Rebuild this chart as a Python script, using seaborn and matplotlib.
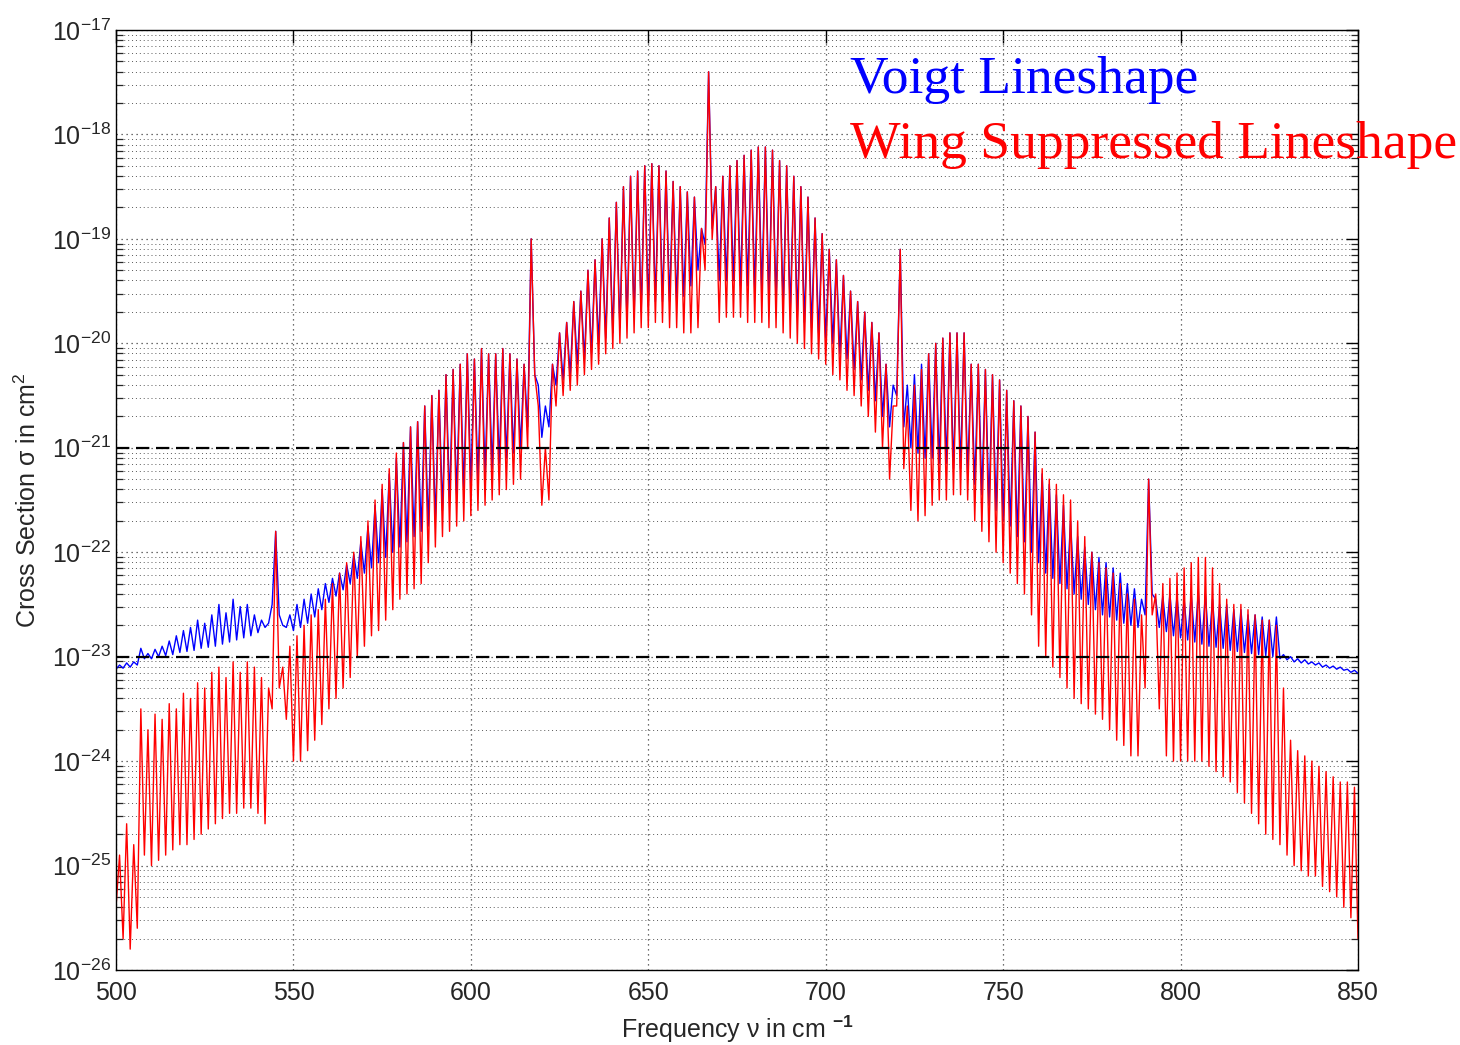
import numpy as np
import pandas as pd
import matplotlib
matplotlib.use("Agg")
import matplotlib.pyplot as plt
import seaborn as sns
from matplotlib.ticker import LogLocator, FixedLocator, NullFormatter, FuncFormatter

# ---------------- data (log10 of cross section, cm^2) ----------------
# Grid: troughs at even wavenumbers 500..850, line peaks at odd wavenumbers 501..849
nu_trough = np.arange(500, 851, 2)
nu_peak = np.arange(501, 850, 2)

red_peak = [
    -24.9, -24.6, -24.8, -23.5, -23.7, -23.55, -23.6, -23.45, -23.5, -23.35,
    -23.4, -23.25, -23.3, -23.15, -23.1, -23.2, -23.05, -23.15, -23.05, -23.1,
    -23.2, -23.3, -21.8, -23.1, -22.9, -22.8, -22.7, -22.6, -22.55, -22.45,
    -22.3, -22.2, -22.1, -22.0, -21.85, -21.7, -21.5, -21.35, -21.2, -21.05,
    -20.95, -20.8, -20.75, -20.6, -20.5, -20.45, -20.3, -20.25, -20.2, -20.1,
    -20.15, -20.05, -20.1, -20.1, -20.05, -20.1, -20.15, -20.2, -19.0, -20.6,
    -21.0, -20.2, -19.9, -19.8, -19.6, -19.5, -19.3, -19.2, -19.0, -18.8,
    -18.65, -18.5, -18.4, -18.35, -18.3, -18.28, -18.3, -18.35, -18.45, -18.5,
    -18.55, -18.6, -18.9, -17.4, -18.5, -18.4, -18.3, -18.25, -18.2, -18.15,
    -18.12, -18.12, -18.15, -18.25, -18.3, -18.4, -18.5, -18.6, -18.8, -18.95,
    -19.1, -19.2, -19.35, -19.5, -19.6, -19.7, -19.8, -19.9, -20.2, -20.6,
    -19.1, -20.6, -20.4, -20.25, -20.1, -20.0, -19.95, -19.9, -19.9, -19.9,
    -20.2, -20.2, -20.25, -20.3, -20.35, -20.45, -20.55, -20.6, -20.7, -20.85,
    -21.2, -21.3, -21.35, -21.45, -21.5, -21.7, -21.85, -22.0, -22.1, -22.15,
    -22.2, -22.3, -22.4, -22.45, -22.6, -21.3, -22.4, -22.3, -22.25, -22.2,
    -22.15, -22.1, -22.05, -22.05, -22.15, -22.3, -22.45, -22.5, -22.5, -22.55,
    -22.6, -22.65, -22.65, -22.7, -23.3, -23.8, -23.9, -23.95, -24.0, -24.05,
    -24.1, -24.15, -24.2, -24.2, -24.25,
]

red_trough = [
    -25.4, -25.7, -25.8, -25.6, -24.9, -25.0, -24.95, -24.9, -24.85, -24.8,
    -24.8, -24.75, -24.7, -24.65, -24.6, -24.55, -24.5, -24.5, -24.45, -24.45,
    -24.5, -24.6, -23.5, -23.3, -23.6, -24.0, -24.0, -23.9, -23.8, -23.65,
    -23.5, -23.4, -23.3, -23.2, -23.0, -22.9, -22.8, -22.75, -22.65, -22.55,
    -22.45, -22.4, -22.35, -22.3, -22.1, -21.95, -21.85, -21.8, -21.75, -21.7,
    -21.65, -21.6, -21.55, -21.5, -21.45, -21.4, -21.35, -21.3, -21.0, -20.3,
    -21.55, -21.5, -20.6, -20.5, -20.45, -20.4, -20.3, -20.25, -20.2, -20.1,
    -20.05, -20.0, -19.95, -19.9, -19.85, -19.85, -19.8, -19.8, -19.85, -19.85,
    -19.9, -19.9, -19.85, -19.3, -19.0, -19.8, -19.75, -19.75, -19.75, -19.8,
    -19.8, -19.8, -19.85, -19.85, -19.9, -19.95, -20.0, -20.05, -20.1, -20.15,
    -20.2, -20.3, -20.35, -20.45, -20.5, -20.6, -20.7, -20.85, -21.0, -21.3,
    -20.6, -21.2, -21.6, -21.7, -21.65, -21.55, -21.5, -21.5, -21.45, -21.45,
    -21.5, -21.7, -21.8, -21.9, -22.0, -22.1, -22.2, -22.3, -22.4, -22.6,
    -22.9, -23.0, -23.1, -23.2, -23.3, -23.4, -23.45, -23.5, -23.55, -23.6,
    -23.7, -23.8, -23.85, -23.95, -23.95, -23.3, -22.6, -23.5, -23.95, -24.0,
    -24.0, -24.0, -24.0, -24.0, -24.05, -24.1, -24.15, -24.2, -24.3, -24.4,
    -24.5, -24.6, -24.7, -24.75, -24.8, -24.9, -25.0, -25.05, -25.1, -25.1,
    -25.2, -25.25, -25.3, -25.4, -25.5, -25.7,
]

blue_peak = [
    -23.08, -23.06, -23.05, -22.92, -22.97, -22.93, -22.9, -22.85, -22.8, -22.75,
    -22.72, -22.65, -22.68, -22.6, -22.5, -22.58, -22.45, -22.52, -22.5, -22.6,
    -22.65, -22.68, -21.8, -22.7, -22.6, -22.5, -22.45, -22.4, -22.35, -22.3,
    -22.25, -22.2, -22.12, -22.02, -21.9, -21.75, -21.55, -21.4, -21.25, -21.1,
    -20.95, -20.8, -20.75, -20.6, -20.5, -20.45, -20.3, -20.25, -20.2, -20.1,
    -20.15, -20.05, -20.1, -20.1, -20.05, -20.1, -20.15, -20.2, -19.0, -20.4,
    -20.6, -20.2, -19.9, -19.8, -19.6, -19.5, -19.3, -19.2, -19.0, -18.8,
    -18.65, -18.5, -18.4, -18.35, -18.3, -18.28, -18.3, -18.35, -18.45, -18.5,
    -18.55, -18.6, -18.9, -17.4, -18.5, -18.4, -18.3, -18.25, -18.2, -18.15,
    -18.12, -18.12, -18.15, -18.25, -18.3, -18.4, -18.5, -18.6, -18.8, -18.95,
    -19.1, -19.2, -19.35, -19.5, -19.6, -19.7, -19.8, -19.9, -20.2, -20.4,
    -19.1, -20.4, -20.3, -20.2, -20.1, -20.0, -19.95, -19.9, -19.9, -19.9,
    -20.2, -20.2, -20.25, -20.3, -20.35, -20.45, -20.55, -20.6, -20.7, -20.85,
    -21.25, -21.35, -21.45, -21.55, -21.7, -21.85, -21.95, -22.0, -22.05, -22.1,
    -22.15, -22.2, -22.3, -22.35, -22.45, -21.3, -22.45, -22.42, -22.4, -22.42,
    -22.45, -22.4, -22.38, -22.4, -22.45, -22.5, -22.5, -22.55, -22.55, -22.6,
    -22.6, -22.62, -22.65, -22.62, -22.98, -23.0, -23.02, -23.03, -23.05, -23.06,
    -23.08, -23.09, -23.1, -23.12, -23.13,
]

blue_trough = [
    -23.12, -23.11, -23.1, -23.08, -23.02, -23.02, -23.0, -22.99, -22.98, -22.96,
    -22.95, -22.94, -22.92, -22.91, -22.9, -22.88, -22.86, -22.84, -22.82, -22.8,
    -22.77, -22.72, -22.5, -22.6, -22.72, -22.75, -22.72, -22.68, -22.62, -22.55,
    -22.48, -22.42, -22.36, -22.3, -22.25, -22.2, -22.15, -22.1, -22.05, -22.0,
    -21.95, -21.9, -21.85, -21.8, -21.75, -21.7, -21.6, -21.5, -21.45, -21.4,
    -21.35, -21.3, -21.25, -21.2, -21.15, -21.1, -21.05, -21.0, -20.8, -20.3,
    -20.9, -20.8, -20.4, -20.35, -20.3, -20.2, -20.15, -20.1, -20.0, -19.95,
    -19.9, -19.85, -19.8, -19.75, -19.7, -19.65, -19.6, -19.6, -19.6, -19.6,
    -19.55, -19.45, -19.3, -19.05, -18.9, -19.4, -19.4, -19.4, -19.45, -19.45,
    -19.5, -19.5, -19.55, -19.6, -19.65, -19.7, -19.75, -19.8, -19.85, -19.9,
    -19.95, -20.0, -20.1, -20.15, -20.25, -20.35, -20.45, -20.55, -20.7, -20.8,
    -20.5, -20.8, -21.0, -21.05, -21.1, -21.1, -21.15, -21.15, -21.2, -21.2,
    -21.25, -21.35, -21.45, -21.55, -21.6, -21.7, -21.75, -21.85, -21.9, -22.0,
    -22.1, -22.2, -22.25, -22.3, -22.35, -22.4, -22.45, -22.5, -22.55, -22.6,
    -22.62, -22.65, -22.68, -22.7, -22.72, -22.6, -22.4, -22.72, -22.76, -22.8,
    -22.82, -22.84, -22.86, -22.88, -22.9, -22.91, -22.92, -22.94, -22.95, -22.96,
    -22.97, -22.98, -22.99, -23.0, -23.02, -23.03, -23.05, -23.06, -23.07, -23.08,
    -23.1, -23.11, -23.12, -23.13, -23.15, -23.16,
]

threshold_levels = [1e-21, 1e-23]
x_ticks = [500, 550, 600, 650, 700, 750, 800, 850]
y_decades = list(range(-26, -16))
series_names = ["Voigt Lineshape", "Wing Suppressed Lineshape"]
series_colors = ["#0000ff", "#ff0000"]


def build(name, troughs, peaks):
    nu = np.concatenate([nu_trough, nu_peak])
    lg = np.concatenate([np.asarray(troughs), np.asarray(peaks)])
    df = pd.DataFrame({"nu": nu, "sigma": 10.0 ** lg, "series": name})
    return df.sort_values("nu").reset_index(drop=True)


df_blue = build(series_names[0], blue_trough, blue_peak)
df_red = build(series_names[1], red_trough, red_peak)

# ---------------- style ----------------
sns.set_style("white")
plt.rcParams["font.family"] = ["Liberation Sans", "DejaVu Sans"]
plt.rcParams["mathtext.fontset"] = "custom"
plt.rcParams["mathtext.rm"] = "Liberation Sans"
plt.rcParams["mathtext.it"] = "Liberation Sans:italic"
plt.rcParams["mathtext.bf"] = "Liberation Sans:bold"

fig = plt.figure(figsize=(14.6, 10.45), dpi=100)
ax = fig.add_axes([116 / 1460, 1 - 970 / 1045, (1358 - 116) / 1460, (970 - 30) / 1045])

sns.lineplot(data=df_blue, x="nu", y="sigma", ax=ax, color=series_colors[0],
             lw=1.0, estimator=None, sort=False, legend=False)
sns.lineplot(data=df_red, x="nu", y="sigma", ax=ax, color=series_colors[1],
             lw=1.0, estimator=None, sort=False, legend=False)

for lvl in threshold_levels:
    ax.axhline(lvl, color="black", lw=1.6, ls=(0, (6, 3)), zorder=5)

ax.set_yscale("log")
ax.set_xlim(500, 850)
ax.set_ylim(1e-26, 1e-17)

ax.xaxis.set_major_locator(FixedLocator(x_ticks))
ax.yaxis.set_major_locator(FixedLocator([10.0 ** d for d in y_decades]))
ax.yaxis.set_minor_locator(LogLocator(base=10, subs=np.arange(2, 10), numticks=100))
ax.yaxis.set_minor_formatter(NullFormatter())
ax.yaxis.set_major_formatter(FuncFormatter(
    lambda v, pos: r"$\mathregular{10^{%d}}$" % int(round(np.log10(v)))))

ax.grid(True, which="major", axis="both", color="0.25", ls=(0, (1, 3)), lw=0.9)
ax.grid(True, which="minor", axis="y", color="0.35", ls=(0, (1, 3)), lw=0.7)

ax.tick_params(axis="both", which="major", direction="in", length=9, width=1,
               labelsize=18, top=True, right=True, color="black")
ax.tick_params(axis="y", which="minor", direction="in", length=5, width=0.9,
               left=True, right=True)
ax.tick_params(axis="x", which="major", pad=8)
for sp in ax.spines.values():
    sp.set_color("black")
    sp.set_linewidth(1.0)

ax.set_xlabel(r"Frequency ν in cm $^{\mathbf{-1}}$", fontsize=18, labelpad=6)
ax.set_ylabel(r"Cross Section σ in cm$^{2}$", fontsize=18, labelpad=8)

fig.text(850 / 1460, 1 - 80 / 1045, series_names[0], color=series_colors[0],
         fontsize=38.5, family=["Liberation Serif", "DejaVu Serif"], va="center", ha="left")
fig.text(850 / 1460, 1 - 145 / 1045, series_names[1], color=series_colors[1],
         fontsize=38.5, family=["Liberation Serif", "DejaVu Serif"], va="center", ha="left")

fig.savefig("out.png", dpi=100, facecolor="white")
